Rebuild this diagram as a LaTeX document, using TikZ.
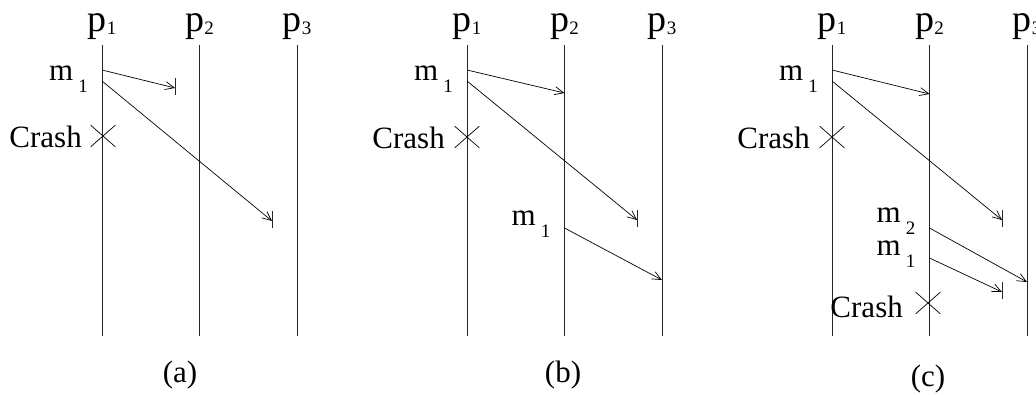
\documentclass[tikz,border=0pt]{standalone}
\usepackage{fontspec}
\setmainfont{Liberation Serif}
\usetikzlibrary{arrows.meta, shapes.misc}

\newcommand{\proclbl}[1]{p\raisebox{-3pt}{\fontsize{19}{19}\selectfont #1}}
\newcommand{\msglbl}[1]{m\hspace{5pt}\raisebox{-12pt}{\fontsize{19}{19}\selectfont #1}}

\begin{document}
\begin{tikzpicture}[
  x=1pt, y=-1pt,
  life/.style  = {draw=black!85, line width=0.8pt},
  msg/.style   = {draw=black, line width=0.7pt},
  lost/.style  = {draw=black!85, line width=0.8pt},
  plbl/.style  = {inner sep=0pt, anchor=base, font=\fontsize{38}{38}\selectfont},
  txt/.style   = {inner sep=0pt, font=\fontsize{31}{31}\selectfont},
  crash/.style = {cross out, draw=black, line width=0.7pt,
                  minimum width=24pt, minimum height=21pt, inner sep=0pt},
  >={Straight Barb[length=9pt, width=8pt]},
]
\useasboundingbox (0,0) rectangle (1036,394);

% process lines
\foreach \pn/\dx in {a/0, b/365, c/730}{
  \foreach \i/\px in {1/102, 2/199.5, 3/297}{
    \node[plbl] (\pn p\i) at (\dx+\px, 31) {\proclbl{\i}};
    \coordinate (\pn t\i) at (\dx+\px, 45);
    \coordinate (\pn b\i) at (\dx+\px, 336);
    \draw[life] (\pn t\i) -- (\pn b\i);
  }
}

% (a)
\begin{scope}
  \node[txt, anchor=base east] (am1) at (88,80) {\msglbl{1}};
  \coordinate (as1) at (102,70);
  \coordinate (ae1) at (175,88);
  \coordinate (as2) at (102,81);
  \coordinate (ae2) at (272,221);
  \draw[msg, ->] (as1) -- (ae1);
  \draw[msg, ->] (as2) -- (ae2);

  \node[crash] (ax) at (103,136) {};
  \node[txt, anchor=base east] (acr) at (82,147) {Crash};

  \node[txt, anchor=base] (alab) at (180,382) {(a)};
\end{scope}

% (b)
\begin{scope}[xshift=365]
  \node[txt, anchor=base east] (bm1) at (88,80) {\msglbl{1}};
  \coordinate (bs1) at (102,70);
  \coordinate (be1) at (199.5,93);
  \coordinate (bs2) at (102,81);
  \coordinate (be2) at (272,220);
  \draw[msg, ->] (bs1) -- (be1);
  \draw[msg, ->] (bs2) -- (be2);

  \node[crash] (bx) at (102,137) {};
  \node[txt, anchor=base east] (bcr) at (80,148) {Crash};

  \node[txt, anchor=base east] (bm2) at (185.5,225) {\msglbl{1}};
  \coordinate (bs3) at (199.5,228);
  \coordinate (be3) at (297,280);
  \draw[msg, ->] (bs3) -- (be3);

  \node[txt, anchor=base] (blab) at (198,382) {(b)};
\end{scope}

% (c)
\begin{scope}[xshift=730]
  \node[txt, anchor=base east] (cm1) at (88,80) {\msglbl{1}};
  \coordinate (cs1) at (102,70);
  \coordinate (ce1) at (199.5,94);
  \coordinate (cs2) at (102,81);
  \coordinate (ce2) at (272,220);
  \draw[msg, ->] (cs1) -- (ce1);
  \draw[msg, ->] (cs2) -- (ce2);

  \node[crash] (cx) at (102,137) {};
  \node[txt, anchor=base east] (ccr) at (80,148) {Crash};

  \node[txt, anchor=base east] (cm2) at (185.5,222) {\msglbl{2}};
  \node[txt, anchor=base east] (cm3) at (185.5,255) {\msglbl{1}};
  \coordinate (cs3) at (199.5,228);
  \coordinate (ce3) at (297,282);
  \coordinate (cs4) at (199.5,258);
  \coordinate (ce4) at (272,292);
  \draw[msg, ->] (cs3) -- (ce3);
  \draw[msg, ->] (cs4) -- (ce4);

  \node[crash] (cy) at (198,303) {};
  \node[txt, anchor=base east] (ccr2) at (173,317) {Crash};

  \node[txt, anchor=base] (clab) at (198,386) {(c)};
\end{scope}

% lost messages end in a bar
\foreach \e in {ae1, ae2, be2, ce2, ce4}{
  \draw[lost] ([yshift=10pt]\e) -- ([yshift=-7pt]\e);
}

\end{tikzpicture}
\end{document}
